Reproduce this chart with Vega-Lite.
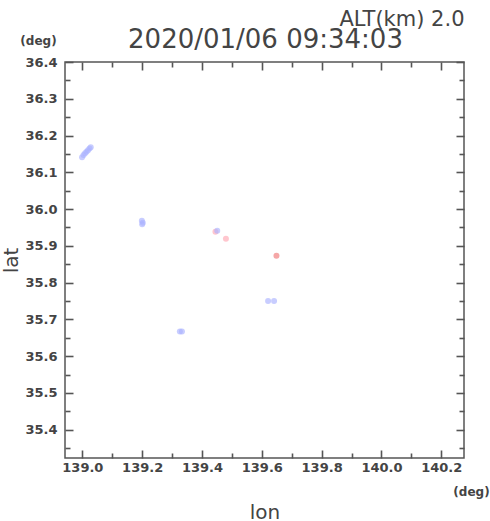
{
  "$schema": "https://vega.github.io/schema/vega-lite/v6.json",
  "width": 399,
  "height": 396,
  "autosize": {"type": "none"},
  "padding": {"left": 65, "top": 62, "right": 26, "bottom": 63},
  "background": "white",
  "view": {"stroke": "#555555", "strokeWidth": 1.5},
  "config": {
    "axis": {
      "labelFont": "DejaVu Sans", "labelFontWeight": "bold", "labelFontSize": 13, "labelColor": "#444444",
      "tickColor": "#555555", "tickWidth": 1.6, "domain": false, "grid": false,
      "titleFont": "DejaVu Sans", "titleColor": "#444444", "titleFontWeight": "normal"
    }
  },
  "data": {
    "values": [
      {"lon": 138.999, "lat": 36.141, "kind": "blue"},
      {"lon": 139.004, "lat": 36.147, "kind": "blue"},
      {"lon": 139.009, "lat": 36.152, "kind": "blue"},
      {"lon": 139.014, "lat": 36.156, "kind": "blue"},
      {"lon": 139.019, "lat": 36.160, "kind": "blue"},
      {"lon": 139.024, "lat": 36.165, "kind": "blue"},
      {"lon": 139.028, "lat": 36.168, "kind": "blue"},
      {"lon": 139.199, "lat": 35.968, "kind": "blue"},
      {"lon": 139.202, "lat": 35.963, "kind": "blue"},
      {"lon": 139.200, "lat": 35.959, "kind": "blue"},
      {"lon": 139.326, "lat": 35.667, "kind": "blue"},
      {"lon": 139.333, "lat": 35.667, "kind": "blue"},
      {"lon": 139.621, "lat": 35.750, "kind": "blue"},
      {"lon": 139.641, "lat": 35.750, "kind": "blue"},
      {"lon": 139.445, "lat": 35.938, "kind": "pink"},
      {"lon": 139.451, "lat": 35.941, "kind": "blue"},
      {"lon": 139.480, "lat": 35.919, "kind": "pink"},
      {"lon": 139.649, "lat": 35.873, "kind": "red"}
    ]
  },
  "resolve": {"axis": {"x": "independent", "y": "independent"}},
  "layer": [
    {
      "mark": {"type": "circle", "size": 36, "opacity": 0.65},
      "encoding": {
        "x": {"field": "lon", "type": "quantitative",
          "scale": {"domain": [138.942, 140.276], "nice": false, "zero": false},
          "axis": {"orient": "bottom", "values": [139.0, 139.2, 139.4, 139.6, 139.8, 140.0, 140.2],
            "offset": -8, "tickSize": 8, "labelPadding": 3, "format": ".1f",
            "title": "lon", "titleX": 199.5, "titleY": 68, "titleAlign": "center", "titleBaseline": "alphabetic", "titleFontSize": 20}},
        "y": {"field": "lat", "type": "quantitative",
          "scale": {"domain": [35.323, 36.4], "nice": false, "zero": false},
          "axis": {"orient": "left", "values": [35.4, 35.5, 35.6, 35.7, 35.8, 35.9, 36.0, 36.1, 36.2, 36.3, 36.4],
            "offset": -8, "tickSize": 8, "labelPadding": 8, "format": ".1f",
            "title": "lat", "titleX": -56, "titleY": 198, "titleAngle": -90, "titleAlign": "center", "titleBaseline": "alphabetic", "titleFontSize": 20}},
        "color": {"field": "kind", "type": "nominal",
          "scale": {"domain": ["blue", "pink", "red"], "range": ["#aab2ff", "#ffa8b4", "#f07878"]},
          "legend": null}
      }
    },
    {
      "mark": {"type": "point", "opacity": 0},
      "encoding": {
        "x": {"field": "lon", "type": "quantitative",
          "scale": {"domain": [138.942, 140.276], "nice": false, "zero": false},
          "axis": {"orient": "bottom", "values": [139.1, 139.3, 139.5, 139.7, 139.9, 140.1],
            "offset": -5, "tickSize": 5, "labels": false,
            "title": "(deg)", "titleX": 406, "titleY": 42, "titleAlign": "center", "titleBaseline": "alphabetic", "titleFontSize": 12, "titleFontWeight": "bold"}},
        "y": {"field": "lat", "type": "quantitative",
          "scale": {"domain": [35.323, 36.4], "nice": false, "zero": false},
          "axis": {"orient": "left", "values": [35.35, 35.45, 35.55, 35.65, 35.75, 35.85, 35.95, 36.05, 36.15, 36.25, 36.35],
            "offset": -5, "tickSize": 5, "labels": false,
            "title": "(deg)", "titleX": -32, "titleY": -18, "titleAngle": 0, "titleAlign": "center", "titleBaseline": "alphabetic", "titleFontSize": 12, "titleFontWeight": "bold"}}
      }
    },
    {
      "mark": {"type": "point", "opacity": 0},
      "encoding": {
        "x": {"field": "lon", "type": "quantitative",
          "scale": {"domain": [138.942, 140.276], "nice": false, "zero": false},
          "axis": {"orient": "top", "values": [139.0, 139.2, 139.4, 139.6, 139.8, 140.0, 140.2],
            "offset": -8, "tickSize": 8, "labels": false,
            "title": "2020/01/06 09:34:03", "titleX": 200, "titleY": -23, "titleAlign": "center", "titleBaseline": "alphabetic", "titleFontSize": 26}},
        "y": {"field": "lat", "type": "quantitative",
          "scale": {"domain": [35.323, 36.4], "nice": false, "zero": false},
          "axis": {"orient": "right", "values": [35.4, 35.5, 35.6, 35.7, 35.8, 35.9, 36.0, 36.1, 36.2, 36.3, 36.4],
            "offset": -8, "tickSize": 8, "labels": false, "title": null}}
      }
    },
    {
      "mark": {"type": "point", "opacity": 0},
      "encoding": {
        "x": {"field": "lon", "type": "quantitative",
          "scale": {"domain": [138.942, 140.276], "nice": false, "zero": false},
          "axis": {"orient": "top", "values": [139.1, 139.3, 139.5, 139.7, 139.9, 140.1],
            "offset": -5, "tickSize": 5, "labels": false,
            "title": "ALT(km) 2.0", "titleX": 399, "titleY": -42, "titleAlign": "right", "titleBaseline": "alphabetic", "titleFontSize": 21}},
        "y": {"field": "lat", "type": "quantitative",
          "scale": {"domain": [35.323, 36.4], "nice": false, "zero": false},
          "axis": {"orient": "right", "values": [35.35, 35.45, 35.55, 35.65, 35.75, 35.85, 35.95, 36.05, 36.15, 36.25, 36.35],
            "offset": -5, "tickSize": 5, "labels": false, "title": null}}
      }
    }
  ]
}
